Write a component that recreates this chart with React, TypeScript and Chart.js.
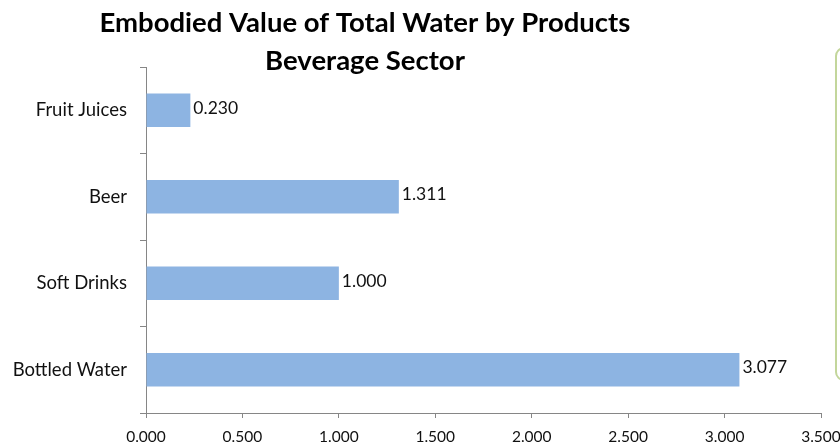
import React, { useEffect, useRef } from "react";
import { Chart, registerables } from "chart.js";

Chart.register(...registerables);

const categories = ["Fruit Juices", "Beer", "Soft Drinks", "Bottled Water"];
const values = [0.23, 1.311, 1.0, 3.077];
const titleLines = ["Embodied Value of Total Water by Products", "Beverage Sector"];

const FONT = "Lato, 'Open Sans', sans-serif";

const decorPlugin = {
  id: "decor",
  afterDraw(chart: any) {
    const ctx = chart.ctx;
    ctx.save();
    // title
    ctx.fillStyle = "#000";
    ctx.font = `bold 27.5px ${FONT}`;
    ctx.textAlign = "center";
    ctx.textBaseline = "middle";
    ctx.fillText(titleLines[0], 365, 23);
    ctx.fillText(titleLines[1], 365, 61);
    // data labels
    const meta = chart.getDatasetMeta(0);
    ctx.font = `17.5px ${FONT}`;
    ctx.fillStyle = "#111";
    ctx.textAlign = "left";
    meta.data.forEach((bar: any, i: number) => {
      ctx.fillText(values[i].toFixed(3), bar.x + 3, bar.y - 2);
    });
    // partial green box at right edge
    ctx.strokeStyle = "#c3d69b";
    ctx.lineWidth = 2;
    ctx.beginPath();
    if (ctx.roundRect) ctx.roundRect(836, 48, 40, 332, 8);
    else ctx.rect(836, 48, 40, 332);
    ctx.stroke();
    ctx.restore();
  },
};

export default function App() {
  const ref = useRef<HTMLCanvasElement>(null);
  useEffect(() => {
    if (!ref.current) return;
    const chart = new Chart(ref.current, {
      type: "bar",
      data: {
        labels: categories,
        datasets: [
          {
            data: values,
            backgroundColor: "#8db4e2",
            borderWidth: 0,
            barPercentage: 0.39,
            categoryPercentage: 1,
          },
        ],
      },
      options: {
        indexAxis: "y",
        animation: false,
        responsive: false,
        maintainAspectRatio: false,
        layout: { padding: { top: 67, right: 19, left: 0, bottom: 0 } },
        plugins: {
          legend: { display: false },
          title: { display: false },
          tooltip: { enabled: false },
        },
        scales: {
          x: {
            min: 0,
            max: 3.5,
            ticks: {
              stepSize: 0.5,
              color: "#111",
              font: { family: FONT, size: 15.5 },
              padding: 10,
              maxRotation: 0,
              callback: (v: any) => Number(v).toFixed(3),
            },
            grid: {
              drawOnChartArea: false,
              drawTicks: true,
              tickLength: 5,
              color: "#868686",
            },
            border: { color: "#868686", width: 1 },
            afterFit: (s: any) => {
              s.height = 35;
              s.paddingLeft = 0;
              s.paddingRight = 0;
            },
          },
          y: {
            ticks: {
              color: "#111",
              font: { family: FONT, size: 18.5 },
              padding: 13,
            },
            grid: {
              drawOnChartArea: false,
              drawTicks: true,
              tickLength: 6,
              offset: true,
              color: "#868686",
            },
            border: { color: "#868686", width: 1 },
            afterFit: (s: any) => {
              s.width = 146;
              s.paddingTop = 0;
              s.paddingBottom = 0;
            },
          },
        },
      },
      plugins: [decorPlugin],
    });
    return () => chart.destroy();
  }, []);
  return (
    <div style={{ position: "fixed", left: 0, top: 0, width: 840, height: 448, background: "#fff" }}>
      <canvas ref={ref} width={840} height={448} style={{ width: 840, height: 448, display: "block" }} />
    </div>
  );
}
